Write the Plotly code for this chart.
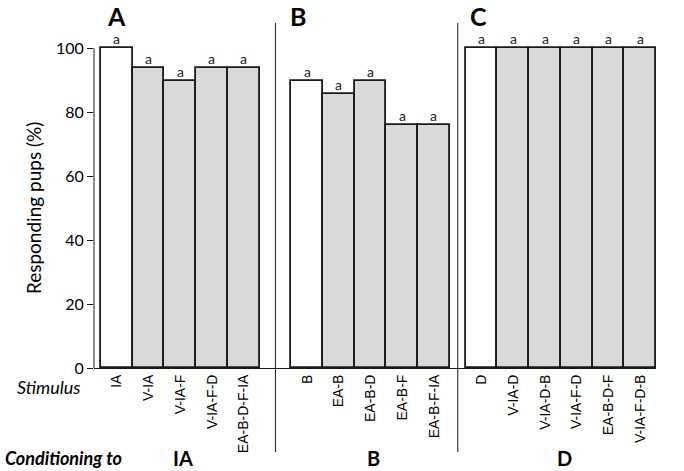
import plotly.graph_objects as go

# Stimulus labels and responding pups (%) per conditioning group
stim_ia = ["IA", "V-IA", "V-IA-F", "V-IA-F-D", "EA-B-D-F-IA"]
resp_ia = [100, 93.75, 89.6, 93.75, 93.75]

stim_b = ["B", "EA-B", "EA-B-D", "EA-B-F", "EA-B-F-IA"]
resp_b = [89.7, 85.7, 89.7, 75.9, 75.9]

stim_d = ["D", "V-IA-D", "V-IA-D-B", "V-IA-F-D", "EA-B-D-F", "V-IA-F-D-B"]
resp_d = [100, 100, 100, 100, 100, 100]

group_names = ["IA", "B", "D"]
panel_letters = ["A", "B", "C"]
sig_letters = "a"

groups = [(stim_ia, resp_ia), (stim_b, resp_b), (stim_d, resp_d)]
group_starts = [0, 6, 11.5]
dividers = [5, 10.75]

AXIS_FONT = "Lato, 'Open Sans', sans-serif"
TICK_FONT = "'Liberation Sans', Arial, sans-serif"
LINE = "#1a1a1a"

fig = go.Figure()
tickvals, ticktext = [], []
for (stims, vals), start in zip(groups, group_starts):
    xs = [start + i for i in range(len(stims))]
    colors = ["white"] + ["#d9d9d9"] * (len(stims) - 1)
    fig.add_trace(go.Bar(
        x=xs, y=vals, width=1.0,
        marker=dict(color=colors, line=dict(color=LINE, width=1.8)),
        showlegend=False, hoverinfo="skip",
    ))
    tickvals += xs
    ticktext += stims
    for x, v in zip(xs, vals):
        fig.add_annotation(x=x, y=v, text=sig_letters, showarrow=False,
                           yanchor="bottom", yshift=-1,
                           font=dict(family=AXIS_FONT, size=14, color="#222"))

for d in dividers:
    fig.add_shape(type="line", xref="x", yref="paper", x0=d, x1=d,
                  y0=-0.26, y1=1.068, line=dict(color=LINE, width=1))

# y axis line only from 0 to 100
fig.add_shape(type="line", xref="paper", yref="y", x0=0, x1=0, y0=0, y1=100,
              line=dict(color=LINE, width=1))

# panel letters
for letter, x in zip(panel_letters, [0, 5.7, 11.4]):
    fig.add_annotation(x=x, y=1.091, xref="x", yref="paper", text=f"<b>{letter}</b>",
                       showarrow=False, yanchor="middle",
                       font=dict(family=AXIS_FONT, size=25, color="black"))

# group labels under the chart
for name, (stims, _), start in zip(group_names, groups, group_starts):
    center = start + (len(stims) - 1) / 2
    fig.add_annotation(x=center + 0.1, y=-0.279, xref="x", yref="paper",
                       text=f"<b>{name}</b>", showarrow=False, yanchor="middle",
                       font=dict(family=AXIS_FONT, size=20, color="black"))

fig.add_annotation(x=-0.162, y=-0.279, xref="paper", yref="paper",
                   text="<b><i>Conditioning to</i></b>", showarrow=False,
                   xanchor="left", yanchor="middle",
                   font=dict(family=AXIS_FONT, size=18, color="black"))
fig.add_annotation(x=-0.0196, y=-0.059, xref="paper", yref="paper", text="<i>Stimulus</i>",
                   showarrow=False, xanchor="right", yanchor="middle",
                   font=dict(family=AXIS_FONT, size=18, color="black"))
fig.add_annotation(x=-0.1085, y=50, xref="paper", yref="y", text="Responding pups (%)",
                   showarrow=False, textangle=-90, xanchor="center", yanchor="middle",
                   font=dict(family=AXIS_FONT, size=19, color="black"))

fig.update_layout(
    width=684, height=471,
    margin=dict(l=94, r=28, t=45, b=103),
    plot_bgcolor="white", paper_bgcolor="white",
    bargap=0,
)
fig.update_xaxes(
    range=[-0.72, 17.0], tickvals=tickvals, ticktext=ticktext, tickangle=-90,
    showline=True, linecolor=LINE, linewidth=1, ticks="", showgrid=False, zeroline=False,
    tickfont=dict(family=TICK_FONT, size=14, color="black"), automargin=False,
)
fig.update_yaxes(
    range=[0, 101], tickvals=[0, 20, 40, 60, 80, 100], showline=False,
    ticks="outside", ticklen=6, tickcolor=LINE, showgrid=False, zeroline=False,
    tickfont=dict(family=AXIS_FONT, size=16, color="black"), automargin=False,
)

# drop the default page margin so the figure sits at the window's corner
fig.write_html("out.html", config={"displayModeBar": False},
               post_script="document.body.style.margin='0';")
